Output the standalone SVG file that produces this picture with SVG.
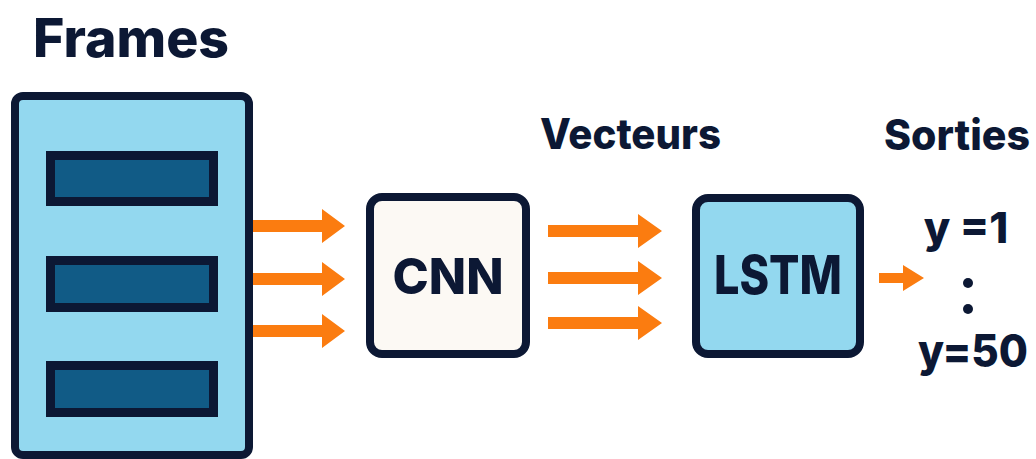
<svg xmlns="http://www.w3.org/2000/svg" width="1036" height="459" viewBox="0 0 1036 459">
  <style>
    .lbl { font-family: Inter, "Liberation Sans", Arial, sans-serif; font-weight: 800; fill: #0c1834; }
    .box { stroke: #0c1834; stroke-width: 8; }
    .frame { fill: #115b86; stroke: #0c1834; stroke-width: 9; }
    .arrow { fill: #fb7c10; }
  </style>
  <rect width="1036" height="459" fill="#ffffff"/>

  <!-- titles -->
  <text class="lbl" x="33" y="57" font-size="53" textLength="196" lengthAdjust="spacingAndGlyphs">Frames</text>
  <text class="lbl" x="540" y="149" font-size="42" textLength="181" lengthAdjust="spacingAndGlyphs">Vecteurs</text>
  <text class="lbl" x="884" y="150" font-size="42" textLength="146" lengthAdjust="spacingAndGlyphs">Sorties</text>

  <!-- frame stack -->
  <g id="frames">
    <rect class="box" x="15" y="96" width="234" height="359" rx="8" fill="#93d8ef"/>
    <rect class="frame" x="50.5" y="155.5" width="163" height="46"/>
    <rect class="frame" x="50.5" y="260.5" width="163" height="47"/>
    <rect class="frame" x="50.5" y="365.5" width="163" height="47"/>
  </g>

  <!-- CNN block -->
  <g id="cnn">
    <rect class="box" x="370" y="197" width="156" height="157" rx="12" fill="#fcf9f4"/>
    <text class="lbl" x="448" y="294" font-size="50" text-anchor="middle" textLength="111" lengthAdjust="spacingAndGlyphs">CNN</text>
  </g>

  <!-- LSTM block -->
  <g id="lstm">
    <rect class="box" x="696" y="198" width="164" height="156" rx="12" fill="#93d8ef"/>
    <text class="lbl" x="778" y="294" font-size="53" text-anchor="middle" textLength="128" lengthAdjust="spacingAndGlyphs">LSTM</text>
  </g>

  <!-- outputs -->
  <g id="outputs">
    <text class="lbl" x="966" y="243" font-size="43" text-anchor="middle">y =1</text>
    <circle cx="968" cy="283" r="5" fill="#0c1834"/>
    <circle cx="968" cy="309" r="5" fill="#0c1834"/>
    <text class="lbl" x="973" y="367" font-size="45" text-anchor="middle" textLength="110" lengthAdjust="spacingAndGlyphs">y=50</text>
  </g>

  <!-- connectors -->
  <g id="connectors">
    <path class="arrow" d="M253 220 H322 V209 L345 226 L322 243 V232 H253 Z"/>
    <path class="arrow" d="M253 273 H322 V262 L345 279 L322 296 V285 H253 Z"/>
    <path class="arrow" d="M253 325 H322 V314 L345 331 L322 348 V337 H253 Z"/>
    <path class="arrow" d="M548 225 H638 V214 L662 231 L638 248 V237 H548 Z"/>
    <path class="arrow" d="M548 272 H638 V261 L662 278 L638 295 V284 H548 Z"/>
    <path class="arrow" d="M548 317 H638 V306 L662 323 L638 340 V329 H548 Z"/>
    <path class="arrow" d="M879 273 H903 V265 L924 278 L903 291 V283 H879 Z"/>
  </g>
</svg>
